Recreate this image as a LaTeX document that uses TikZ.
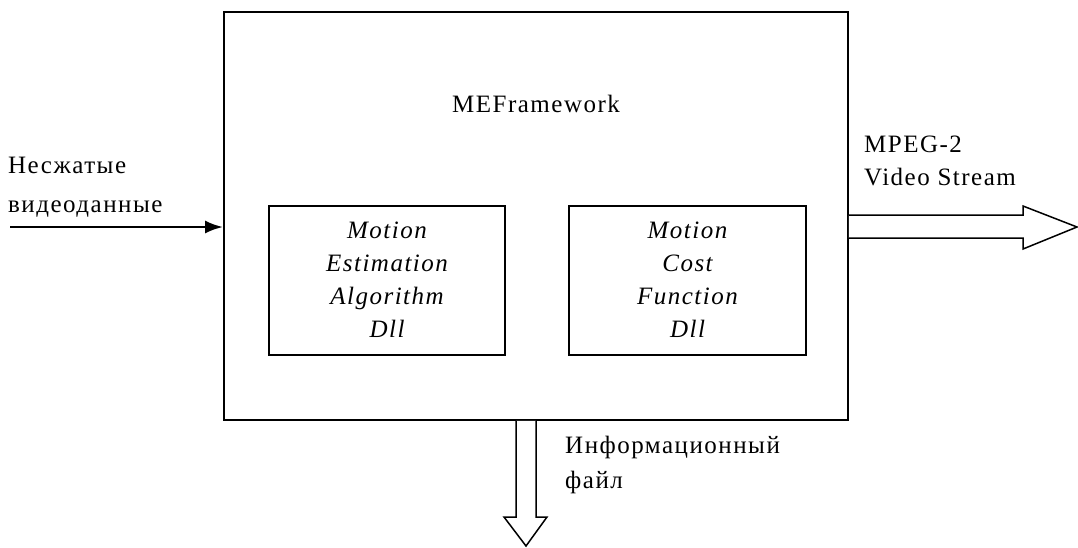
\documentclass[tikz,border=0pt]{standalone}
\usepackage{fontspec}
\setmainfont{Liberation Serif}[LetterSpace=6]
\usetikzlibrary{arrows.meta}
\tikzset{
  box/.style={draw, line width=1.8pt, inner sep=0pt},
  lbl/.style={font=\fontsize{25}{34}\selectfont, inner sep=0pt, align=left},
  dll/.style={font=\fontsize{25}{33}\selectfont\itshape, inner sep=0pt, align=center},
  hollow/.style={draw, line width=1.5pt, line join=miter, fill=white},
  inarrow/.style={line width=2.6pt, -{Latex[length=18pt,width=13pt]}}
}
\begin{document}
\begin{tikzpicture}[x=1pt,y=-1pt]
\useasboundingbox (0,0) rectangle (1078,547);
% main box
\node[box, minimum width=624pt, minimum height=408pt] (outer) at (536,216) {};
\node[box, minimum width=236pt, minimum height=149pt] (me) at (387,280.5) {};
\node[box, minimum width=237pt, minimum height=149pt] (cf) at (687.5,280.5) {};
\node[lbl, anchor=base] (title) at (536,112) {MEFramework};
\node[dll, anchor=base] (metext) at (387,337) {Motion\\Estimation\\Algorithm\\Dll};
\node[dll, anchor=base] (cftext) at (687.5,337) {Motion\\Cost\\Function\\Dll};
% input
\node[lbl, anchor=base west, font=\fontsize{25}{39}\selectfont] (inlbl) at (8,212) {Несжатые\\видеоданные};
\coordinate (instart) at (10,227);
\draw[inarrow] (instart) -- (outer.west |- instart);
% output right
\node[lbl, anchor=base west, font=\fontsize{25}{33}\selectfont] (outlbl) at (864,185) {MPEG-2\\Video Stream};
\coordinate (rtip) at (1077,227);
\draw[hollow] (outer.east |- 0,215) -- (1023,215) -- (1023,206) -- (rtip)
  -- (1023,249) -- (1023,238) -- (outer.east |- 0,238);
% output down
\node[lbl, anchor=base west, font=\fontsize{25}{35}\selectfont] (infolbl) at (565,488) {Информационный\\файл};
\coordinate (dtip) at (526,546);
\draw[hollow] (516,0 |- outer.south) -- (516,517) -- (504,517) -- (dtip)
  -- (547,517) -- (536,517) -- (536,0 |- outer.south);
\end{tikzpicture}
\end{document}
